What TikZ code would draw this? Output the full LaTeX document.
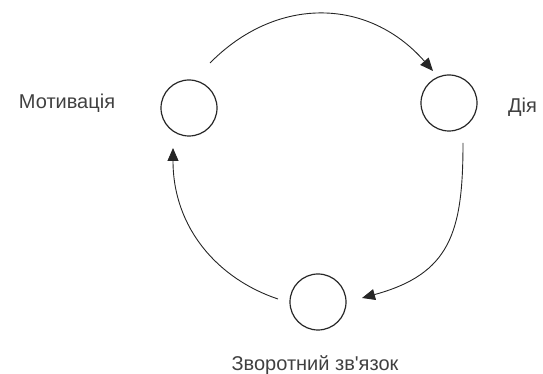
\documentclass[tikz,border=0pt]{standalone}
\usepackage{fontspec}
\newfontfamily\lsans{Liberation Sans}
\usetikzlibrary{arrows.meta}
\begin{document}
\begin{tikzpicture}[x=1pt,y=1pt,
  stage/.style={circle,draw=black!85,line width=1.2pt,minimum size=56pt,inner sep=0pt},
  lbl/.style={text=black!75,font=\lsans\fontsize{20}{23}\selectfont,inner sep=0pt},
  flow/.style={draw=black!85,line width=0.9pt,-{Triangle[length=13pt,width=11pt]}}]
\useasboundingbox (0,0) rectangle (543,374);
\node[stage] (m) at (189,266) {};
\node[stage] (d) at (449,271) {};
\node[stage] (z) at (318,72) {};
\node[lbl] (ml) at (67,271) {Мотивація};
\node[lbl,anchor=west] (dl) at (508,267) {Дія};
\node[lbl] (zl) at (315,9) {Зворотний зв'язок};
\coordinate (t0) at (210,311);
\coordinate (t1) at (433,303);
\coordinate (r0) at (463,231);
\coordinate (r1) at (362,76);
\coordinate (l0) at (278,75);
\coordinate (l1) at (173,226);
\draw[flow] (t0) .. controls (276,378) and (368,377) .. (t1);
\draw[flow] (r0) .. controls (463,141) and (450,100) .. (r1);
\draw[flow] (l0) .. controls (218,95) and (173,146) .. (l1);
\end{tikzpicture}
\end{document}
